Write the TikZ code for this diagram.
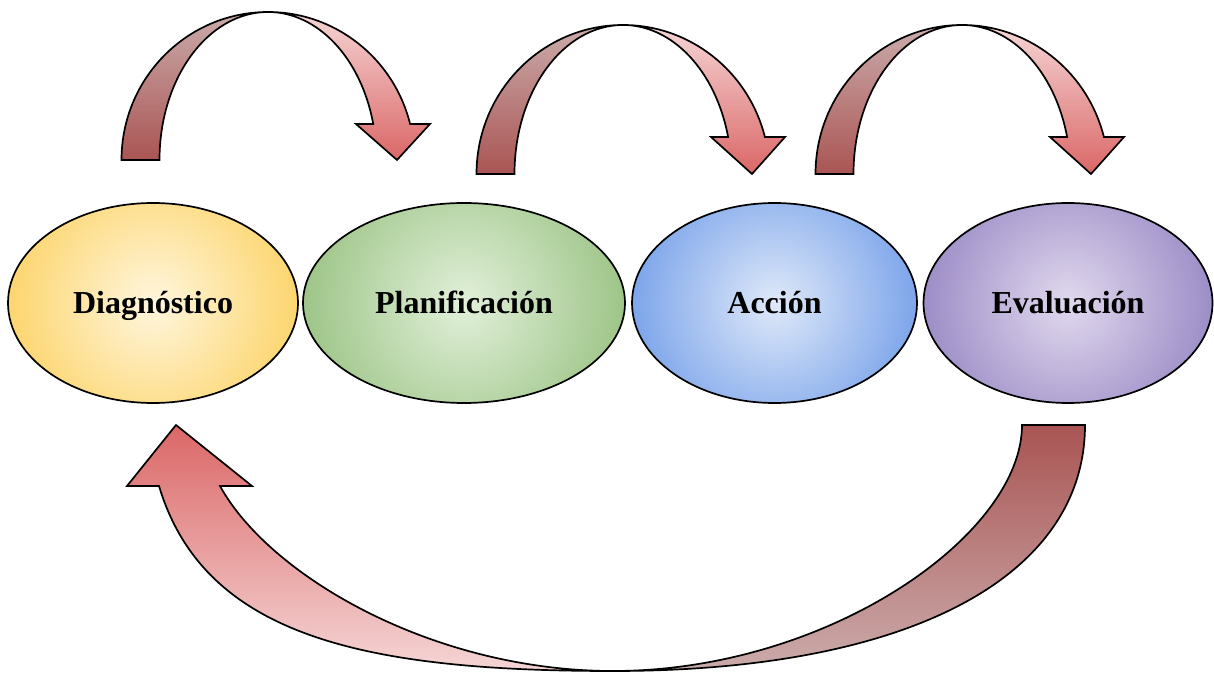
\documentclass[tikz,border=0pt]{standalone}
\usepackage{fontspec}
\setmainfont{Liberation Serif}
\usetikzlibrary{shapes.geometric}
\definecolor{lbBot}{HTML}{A95553}
\definecolor{lbTop}{HTML}{CBABAB}
\definecolor{rbTop}{HTML}{F5D5D5}
\definecolor{rbBot}{HTML}{DB6767}
\definecolor{dI}{HTML}{FFF6DE}
\definecolor{dO}{HTML}{FCD46A}
\definecolor{pI}{HTML}{E2F0DA}
\definecolor{pO}{HTML}{9CC486}
\definecolor{aI}{HTML}{DFE9F9}
\definecolor{aO}{HTML}{7AA3EA}
\definecolor{eI}{HTML}{E1D9EE}
\definecolor{eO}{HTML}{9A8AC5}
\newcommand\toparrow[4]{%
  \pgfmathsetmacro\myang{360-asin(#4/#3)}%
  \begin{scope}[shift={(#1,#2)}]
    \shadedraw[band, top color=lbTop, bottom color=lbBot]
      (-146.5,0) arc[start angle=180, end angle=270, x radius=146.5, y radius=#3]
      arc[start angle=270, end angle=180, x radius=108.5, y radius=#3] -- cycle;
    \shadedraw[band, top color=rbTop, bottom color=rbBot]
      (0,-#3) arc[start angle=270, end angle=\myang, x radius=146.5, y radius=#3]
      -- (162,-#4) -- (129,0) -- (88,-#4) -- ({108.5*cos(\myang)},-#4)
      arc[start angle=\myang, end angle=270, x radius=108.5, y radius=#3] -- cycle;
  \end{scope}}
\begin{document}
\begin{tikzpicture}[x=0.5pt,y=-0.5pt,
  stage/.style={ellipse, draw=black, line width=0.85pt, inner sep=0pt,
    font=\fontsize{16}{19}\selectfont\bfseries, minimum height=100pt,
    text height=11pt, text depth=0pt},
  band/.style={draw=black, line width=0.85pt, line join=miter}]
\useasboundingbox (0,0) rectangle (1214,673);

% stages
\node[stage, minimum width=145pt,
  path picture={\shade[inner color=dI, outer color=dO] (path picture bounding box.center) circle[radius=150];}]
  (diag) at (153,303) {Diagnóstico};
\node[stage, minimum width=161pt,
  path picture={\shade[inner color=pI, outer color=pO] (path picture bounding box.center) circle[radius=165];}]
  (plan) at (464,303) {Planificación};
\node[stage, minimum width=142.5pt,
  path picture={\shade[inner color=aI, outer color=aO] (path picture bounding box.center) circle[radius=147];}]
  (acc) at (774.5,303) {Acción};
\node[stage, minimum width=144.5pt,
  path picture={\shade[inner color=eI, outer color=eO] (path picture bounding box.center) circle[radius=150];}]
  (eval) at (1068,303) {Evaluación};

% top curved arrows
\toparrow{268}{160}{148}{36}
\toparrow{623}{174}{149}{37}
\toparrow{962}{174}{149}{37}

% bottom return arrow
\shadedraw[band, top color=lbBot, bottom color=lbTop]
  (1085,425) .. controls (1085,575) and (913,671) .. (613,671)
  .. controls (828,671) and (1022,535) .. (1022,425) -- cycle;
\shadedraw[band, top color=rbBot, bottom color=rbTop]
  (613,671) .. controls (363,671) and (204,636) .. (159,486)
  -- (127,486) -- (176,425) -- (252,486) -- (220,486)
  .. controls (269.5,576) and (433,671) .. (613,671) -- cycle;
\end{tikzpicture}
\end{document}
